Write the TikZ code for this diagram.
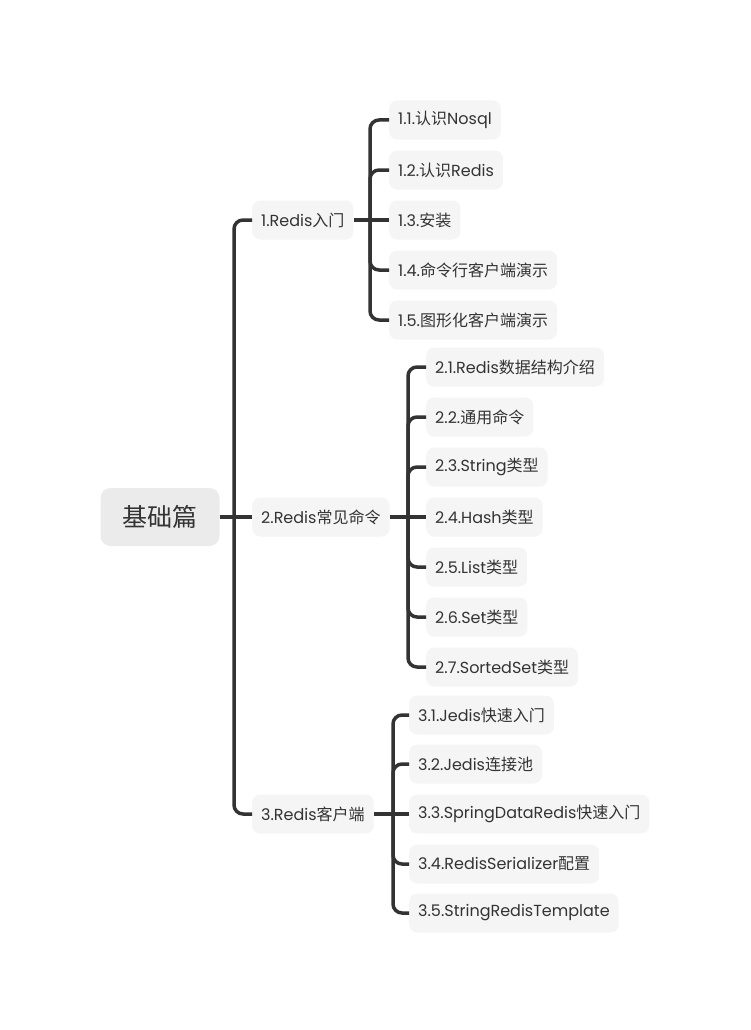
\documentclass[tikz,border=0pt]{standalone}
\usepackage{fontspec}
\setmainfont{Poppins}
\newfontfamily\cjk{Noto Sans CJK SC}
\newcommand\zh[1]{{\cjk #1}}
\definecolor{linkgray}{HTML}{333333}
\definecolor{rootbg}{HTML}{EBEBEB}
\definecolor{leafbg}{HTML}{F5F5F5}
\usetikzlibrary{positioning}

\begin{document}
\begin{tikzpicture}[x=1pt,y=-1pt,topic/.style={fill=leafbg,text=linkgray,rounded corners=8pt,inner xsep=9pt,minimum height=39pt,anchor=west,font=\fontsize{16}{19}\selectfont},central/.style={fill=rootbg,text=linkgray,rounded corners=10pt,minimum width=119pt,minimum height=58pt,font=\fontsize{25}{30}\selectfont},link/.style={draw=linkgray,line width=3.5pt,rounded corners=9pt}]
\useasboundingbox (0,0) rectangle (751,1030);
\node[central] (root) at (160,517) {\zh{基础篇}};
\node[topic] (t1) at (252,220) {1.Redis\zh{入门}};
\node[topic] (t2) at (252,517) {2.Redis\zh{常见命令}};
\node[topic] (t3) at (252,814) {3.Redis\zh{客户端}};
\coordinate (b0) at (234,517);
\coordinate (b1) at (370,220);
\coordinate (b2) at (408,517);
\coordinate (b3) at (393,814);

\node[topic] (t11) at (389,120) {1.1.\zh{认识}Nosql};
\node[topic] (t12) at (389,170) {1.2.\zh{认识}Redis};
\node[topic] (t13) at (389,220) {1.3.\zh{安装}};
\node[topic] (t14) at (389,270) {1.4.\zh{命令行客户端演示}};
\node[topic] (t15) at (389,320) {1.5.\zh{图形化客户端演示}};

\node[topic] (t21) at (426,367) {2.1.Redis\zh{数据结构介绍}};
\node[topic] (t22) at (426,417) {2.2.\zh{通用命令}};
\node[topic] (t23) at (426,467) {2.3.String\zh{类型}};
\node[topic] (t24) at (426,517) {2.4.Hash\zh{类型}};
\node[topic] (t25) at (426,567) {2.5.List\zh{类型}};
\node[topic] (t26) at (426,617) {2.6.Set\zh{类型}};
\node[topic] (t27) at (426,667) {2.7.SortedSet\zh{类型}};

\node[topic] (t31) at (409,715) {3.1.Jedis\zh{快速入门}};
\node[topic] (t32) at (409,764) {3.2.Jedis\zh{连接池}};
\node[topic] (t33) at (409,814) {3.3.SpringDataRedis\zh{快速入门}};
\node[topic] (t34) at (409,864) {3.4.RedisSerializer\zh{配置}};
\node[topic] (t35) at (409,913) {3.5.StringRedisTemplate};

\draw[link] (root.east) -- (b0);
\draw[link] (b0) |- (t1.west);
\draw[link] (b0) -- (t2.west);
\draw[link] (b0) |- (t3.west);

\draw[link] (t1.east) -- (b1);
\draw[link] (b1) |- (t11.west);
\draw[link] (b1) |- (t12.west);
\draw[link] (b1) -- (t13.west);
\draw[link] (b1) |- (t14.west);
\draw[link] (b1) |- (t15.west);

\draw[link] (t2.east) -- (b2);
\draw[link] (b2) |- (t21.west);
\draw[link] (b2) |- (t22.west);
\draw[link] (b2) |- (t23.west);
\draw[link] (b2) -- (t24.west);
\draw[link] (b2) |- (t25.west);
\draw[link] (b2) |- (t26.west);
\draw[link] (b2) |- (t27.west);

\draw[link] (t3.east) -- (b3);
\draw[link] (b3) |- (t31.west);
\draw[link] (b3) |- (t32.west);
\draw[link] (b3) -- (t33.west);
\draw[link] (b3) |- (t34.west);
\draw[link] (b3) |- (t35.west);
\end{tikzpicture}
\end{document}
